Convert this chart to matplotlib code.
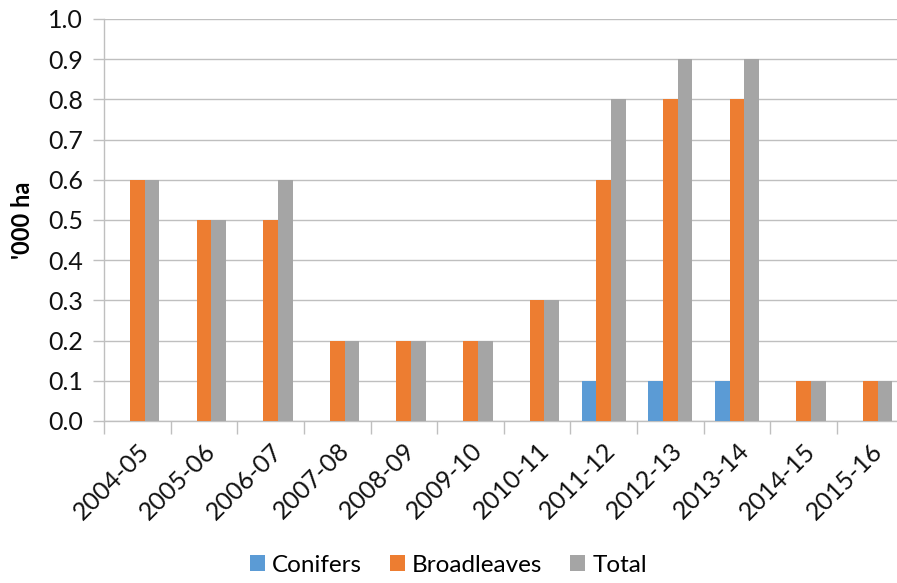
import numpy as np
import matplotlib.pyplot as plt
from matplotlib.ticker import MultipleLocator, FixedLocator

plt.rcParams['font.family'] = ['Lato', 'DejaVu Sans']

seasons = ['2004-05', '2005-06', '2006-07', '2007-08', '2008-09', '2009-10',
           '2010-11', '2011-12', '2012-13', '2013-14', '2014-15', '2015-16']
conifers = [0, 0, 0, 0, 0, 0, 0, 0.1, 0.1, 0.1, 0, 0]
broadleaves = [0.6, 0.5, 0.5, 0.2, 0.2, 0.2, 0.3, 0.6, 0.8, 0.8, 0.1, 0.1]
total = [0.6, 0.5, 0.6, 0.2, 0.2, 0.2, 0.3, 0.8, 0.9, 0.9, 0.1, 0.1]

series = [('Conifers', conifers, '#5B9BD5'),
          ('Broadleaves', broadleaves, '#ED7D31'),
          ('Total', total, '#A5A5A5')]

W, H = 897, 583
fig = plt.figure(figsize=(W / 100, H / 100), dpi=100)
ax = fig.add_axes([104 / W, (H - 421) / H, 799.5 / W, 402 / H])

x = np.arange(len(seasons))
bw = 0.222
for i, (name, vals, col) in enumerate(series):
    ax.bar(x + (i - 1) * bw, vals, width=bw, color=col, label=name, zorder=3)

ax.set_xlim(-0.5, len(seasons) - 0.5)
ax.set_ylim(0, 1.0)
ax.yaxis.set_major_locator(MultipleLocator(0.1))
ax.yaxis.set_major_formatter(plt.FuncFormatter(lambda v, p: f'{v:.1f}'))
ax.grid(axis='y', color='#BFBFBF', linewidth=1.0, zorder=0)

ax.set_xticks(x)
ax.set_xticklabels(seasons, rotation=45, ha='right', rotation_mode='anchor',
                   fontsize=18, color='#111111')
ax.tick_params(axis='x', which='major', length=0, pad=13)
ax.xaxis.set_minor_locator(FixedLocator(np.arange(-0.5, len(seasons), 1)))
ax.tick_params(axis='x', which='minor', length=9, color='#BFBFBF', width=1)
ax.tick_params(axis='y', length=8, color='#BFBFBF', width=1, labelsize=18,
               labelcolor='#111111', pad=7)

for s in ['top', 'right']:
    ax.spines[s].set_visible(False)
for s in ['left', 'bottom']:
    ax.spines[s].set_color('#BFBFBF')
    ax.spines[s].set_linewidth(1)

ax.set_ylabel("'000 ha", fontsize=17, fontweight='bold')
ax.yaxis.set_label_coords(-0.088, 0.5)

fig.legend(loc='center', bbox_to_anchor=(0.5, (H - 565) / H), ncol=3,
           frameon=False, fontsize=17.5, handlelength=0.6, handleheight=0.6,
           handletextpad=0.3, columnspacing=1.15)

fig.savefig('out.png', dpi=100)
